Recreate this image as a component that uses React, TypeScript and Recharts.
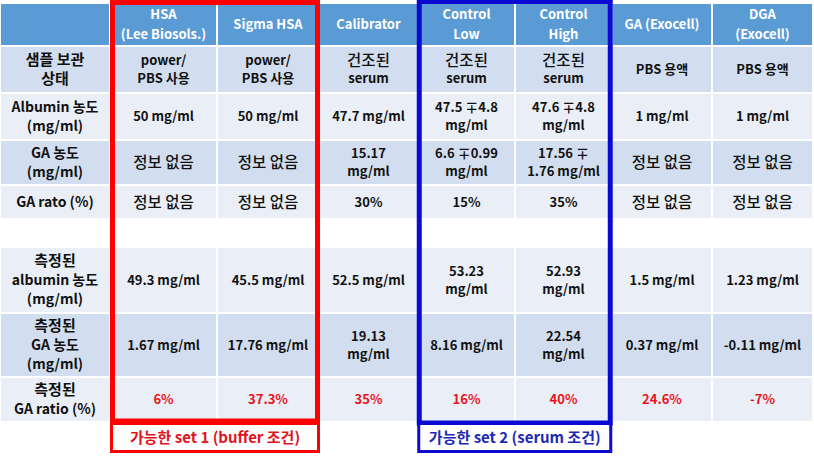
import { ScatterChart, Scatter, XAxis, YAxis } from 'recharts';

// column headers / row labels
const columns = ['HSA\n(Lee Biosols.)', 'Sigma HSA', 'Calibrator', 'Control\nLow', 'Control\nHigh', 'GA (Exocell)', 'DGA\n(Exocell)'];
const rowLabels = ['샘플 보관\n상태', 'Albumin 농도\n(mg/ml)', 'GA 농도\n(mg/ml)', 'GA rato (%)', '', '측정된\nalbumin 농도\n(mg/ml)', '측정된\nGA 농도\n(mg/ml)', '측정된\nGA ratio (%)'];

// table values per row
const storage = ['power/\nPBS 사용', 'power/\nPBS 사용', '건조된\nserum', '건조된\nserum', '건조된\nserum', 'PBS 용액', 'PBS 용액'];
const albumin = ['50 mg/ml', '50 mg/ml', '47.7 mg/ml', '47.5 ∓4.8\nmg/ml', '47.6 ∓4.8\nmg/ml', '1 mg/ml', '1 mg/ml'];
const gaConc = ['정보 없음', '정보 없음', '15.17\nmg/ml', '6.6 ∓0.99\nmg/ml', '17.56 ∓\n1.76 mg/ml', '정보 없음', '정보 없음'];
const gaRatio = ['정보 없음', '정보 없음', '30%', '15%', '35%', '정보 없음', '정보 없음'];
const measuredAlbumin = ['49.3 mg/ml', '45.5 mg/ml', '52.5 mg/ml', '53.23\nmg/ml', '52.93\nmg/ml', '1.5 mg/ml', '1.23 mg/ml'];
const measuredGa = ['1.67 mg/ml', '17.76 mg/ml', '19.13\nmg/ml', '8.16 mg/ml', '22.54\nmg/ml', '0.37 mg/ml', '-0.11 mg/ml'];
const measuredRatio = ['6%', '37.3%', '35%', '16%', '40%', '24.6%', '-7%'];

const setLabels = ['가능한 set 1 (buffer 조건)', '가능한 set 2 (serum 조건)'];

const W = 814;
const H = 458;
const FONT = "'Noto Sans CJK KR', 'Noto Sans', sans-serif";

// table grid (pixel layout)
const colEdges = [0, 110, 217, 319, 418, 515, 612, 712, 813];
const rowEdges = [3, 46, 93, 140, 185, 219, 247, 313, 377, 422];

const HEAD = '#5B9BD5';
const DARK = '#D2DEEF';
const LIGHT = '#EAEFF7';
const RED = '#E8141E';

const bodyRows = [storage, albumin, gaConc, gaRatio, null, measuredAlbumin, measuredGa, measuredRatio];
const rowFills = [DARK, LIGHT, DARK, LIGHT, 'none', LIGHT, DARK, LIGHT];

type Cell = { x: number; y: number; w: number; h: number; text: string; fill: string; color: string; kind: string };

const cells: Cell[] = [];
for (let r = 0; r < rowEdges.length - 1; r++) {
  for (let c = 0; c < colEdges.length - 1; c++) {
    let text = '';
    let kind = 'value';
    if (r === 0) {
      text = c === 0 ? '' : columns[c - 1];
      kind = 'head';
    } else if (c === 0) {
      text = rowLabels[r - 1];
      kind = 'label';
    } else {
      text = bodyRows[r - 1]?.[c - 1] ?? '';
    }
    cells.push({
      x: (colEdges[c] + colEdges[c + 1]) / 2,
      y: (rowEdges[r] + rowEdges[r + 1]) / 2,
      w: colEdges[c + 1] - colEdges[c],
      h: rowEdges[r + 1] - rowEdges[r],
      text,
      fill: r === 0 ? HEAD : rowFills[r - 1],
      color: r === 0 ? '#FFFFFF' : r === 8 && c > 0 ? RED : '#111111',
      kind,
    });
  }
}

// highlight frames + captions
const frames = [
  { x: 215, y: 211.75, w: 205, h: 418.5, stroke: '#FF0000', sw: 5, label: '', color: '' },
  { x: 514.75, y: 212.25, w: 191, h: 421.5, stroke: '#0A0AD2', sw: 5, label: '', color: '' },
  { x: 215, y: 437.5, w: 207, h: 28, stroke: '#FF0000', sw: 3, label: setLabels[0], color: '#E0141E' },
  { x: 514.75, y: 437.5, w: 192, h: 28, stroke: '#0A0AD2', sw: 3, label: setLabels[1], color: '#1E28B4' },
];

const hangulOnly = (s: string) => /^[\uAC00-\uD7A3 ]+$/.test(s);

function CellShape(props: any) {
  const { cx, cy, payload } = props;
  const p = payload as Cell;
  const lines = p.text ? p.text.split('\n') : [];
  const lh = p.kind === 'label' ? 19 : p.kind === 'head' ? 20 : 18;
  return (
    <g>
      {p.fill !== 'none' && (
        <rect x={cx - p.w / 2 + 1} y={cy - p.h / 2 + 1} width={p.w - 2} height={p.h - 2} fill={p.fill} />
      )}
      {lines.map((line, i) => {
        const plain = p.kind === 'value' && hangulOnly(line);
        const size = p.kind === 'label' ? (hangulOnly(line) ? 15 : 14) : plain ? 15.5 : 13;
        return (
          <text
            key={i}
            x={cx}
            y={cy + (i - (lines.length - 1) / 2) * lh + size * 0.36}
            textAnchor="middle"
            fontFamily={FONT}
            fontSize={size}
            fontWeight={plain ? 500 : 700}
            fill={p.color}
          >
            {line}
          </text>
        );
      })}
    </g>
  );
}

function FrameShape(props: any) {
  const { cx, cy, payload } = props;
  return (
    <g>
      <rect
        x={cx - payload.w / 2}
        y={cy - payload.h / 2}
        width={payload.w}
        height={payload.h}
        fill={payload.label ? '#FFFFFF' : 'none'}
        stroke={payload.stroke}
        strokeWidth={payload.sw}
      />
      {payload.label && (
        <text x={cx} y={cy + 5.5} textAnchor="middle" fontFamily={FONT} fontSize={15} fontWeight={600} fill={payload.color}>
          {payload.label}
        </text>
      )}
    </g>
  );
}

export default function App() {
  return (
    <div style={{ position: 'absolute', left: 0, top: 0, width: W, height: H, background: '#FFFFFF' }}>
      <ScatterChart width={W} height={H} margin={{ top: 0, right: 0, bottom: 0, left: 0 }}>
        <XAxis type="number" dataKey="x" domain={[0, W]} hide />
        <YAxis type="number" dataKey="y" domain={[0, H]} reversed hide />
        <Scatter data={cells} shape={CellShape} isAnimationActive={false} />
        <Scatter data={frames} shape={FrameShape} isAnimationActive={false} />
      </ScatterChart>
    </div>
  );
}
